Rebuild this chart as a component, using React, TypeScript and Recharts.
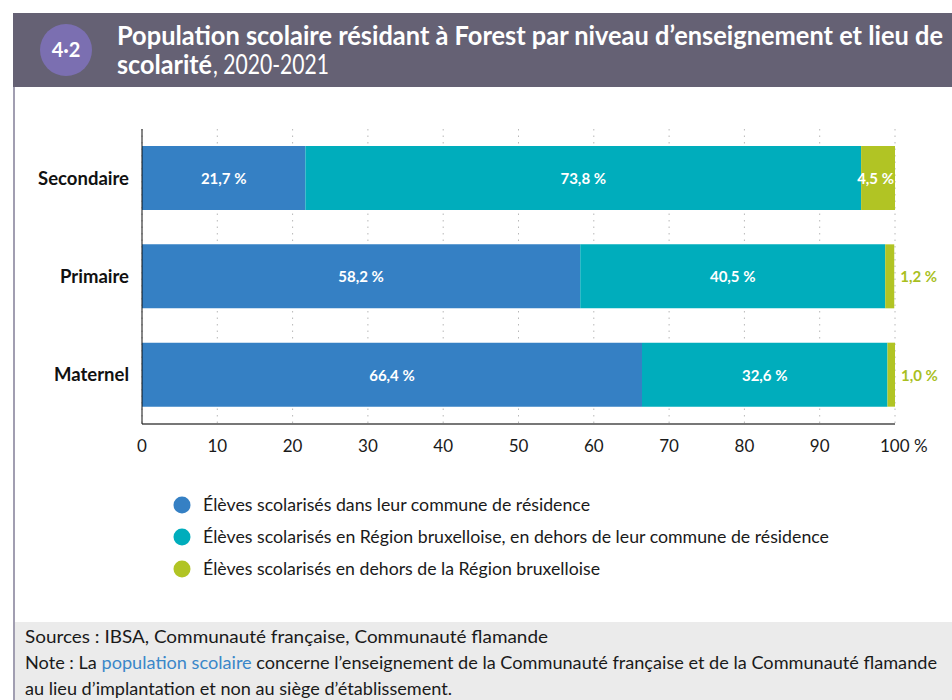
import { BarChart, Bar, XAxis, YAxis, CartesianGrid, LabelList } from 'recharts';

const categories = ['Secondaire', 'Primaire', 'Maternel'];
const dansCommune = [21.7, 58.2, 66.4];
const regionBxl = [73.8, 40.5, 32.6];
const horsRegion = [4.5, 1.2, 1.0];
const xTicks = [0, 10, 20, 30, 40, 50, 60, 70, 80, 90, 100];

const seriesNames = [
    'Élèves scolarisés dans leur commune de résidence',
    'Élèves scolarisés en Région bruxelloise, en dehors de leur commune de résidence',
    'Élèves scolarisés en dehors de la Région bruxelloise',
];

const BLUE = '#3580c4';
const TEAL = '#00adbc';
const GREEN = '#b1c424';
const FONT = 'Lato, "Open Sans", sans-serif';

const data = categories.map((name, i) => ({
    name,
    commune: dansCommune[i],
    region: regionBxl[i],
    hors: horsRegion[i],
}));

const fmt = (v: number) => v.toFixed(1).replace('.', ',') + ' %';

const InsideLabel = (props: any) => {
    const { x, y, width, height, value } = props;
    return (
        <text
            x={Number(x) + Number(width) / 2}
            y={Number(y) + Number(height) / 2}
            fill="#fff"
            fontSize={15}
            fontWeight={700}
            fontFamily={FONT}
            textAnchor="middle"
            dominantBaseline="central"
        >
            {fmt(value)}
        </text>
    );
};

const EndLabel = (props: any) => {
    const { x, y, width, height, value } = props;
    const inside = value >= 3;
    return (
        <text
            x={inside ? Number(x) + Number(width) - 1 : Number(x) + Number(width) + 6}
            y={Number(y) + Number(height) / 2}
            fill={inside ? '#fff' : '#a9bf1f'}
            fontSize={15}
            fontWeight={700}
            fontFamily={FONT}
            textAnchor={inside ? 'end' : 'start'}
            dominantBaseline="central"
        >
            {fmt(value)}
        </text>
    );
};

const XTick = (props: any) => {
    const { x, y, payload } = props;
    const last = payload.value === 100;
    return (
        <text
            x={last ? x - 15 : x}
            y={y + 26}
            fill="#1a1a1a"
            fontSize={17}
            fontFamily={FONT}
            textAnchor={last ? 'start' : 'middle'}
        >
            {last ? '100 %' : payload.value}
        </text>
    );
};

const legendColors = [BLUE, TEAL, GREEN];
const legendWidths = [387, 626, 397];

export default function App() {
    return (
        <div style={{ position: 'absolute', left: 0, top: 0, width: 952, height: 700, background: '#fff' }}>
            <svg width={952} height={700} style={{ position: 'absolute', left: 0, top: 0 }}>
                {/* cadre */}
                <rect x={13} y={13} width={939} height={74} fill="#656174" />
                <rect x={13} y={87} width={2} height={613} fill="#a19eb1" />
                <rect x={15} y={622} width={937} height={78} fill="#ebebeb" />
                <circle cx={66} cy={50} r={26} fill="#7b6fb1" />
                <text x={66} y={57} fill="#fff" fontSize={20} fontWeight={700} fontFamily={FONT} textAnchor="middle">
                    4·2
                </text>
                <text x={117} y={45} fill="#fff" fontSize={26} fontWeight={700} fontFamily={FONT} textLength={826} lengthAdjust="spacingAndGlyphs">
                    Population scolaire résidant à Forest par niveau d’enseignement et lieu de
                </text>
                <text x={117} y={74} fill="#fff" fontSize={26} fontWeight={700} fontFamily={FONT} textLength={95} lengthAdjust="spacingAndGlyphs">
                    scolarité
                </text>
                <text x={213} y={74} fill="#fff" fontSize={26} fontFamily={FONT} textLength={116} lengthAdjust="spacingAndGlyphs">
                    , 2020-2021
                </text>

                {/* légende */}
                {seriesNames.map((s, i) => (
                    <g key={s}>
                        <circle cx={182} cy={505 + i * 32} r={8.5} fill={legendColors[i]} />
                        <text x={203} y={511 + i * 32} fill="#1a1a1a" fontSize={17} fontFamily={FONT} textLength={legendWidths[i]} lengthAdjust="spacingAndGlyphs">
                            {s}
                        </text>
                    </g>
                ))}

                {/* sources */}
                <text x={25} y={643} fill="#1a1a1a" fontSize={17} fontFamily={FONT} textLength={523} lengthAdjust="spacingAndGlyphs">
                    Sources : IBSA, Communauté française, Communauté flamande
                </text>
                <text x={25} y={669} fill="#1a1a1a" fontSize={17} fontFamily={FONT} textLength={912} lengthAdjust="spacingAndGlyphs">
                    Note : La <tspan fill="#3a87c9">population scolaire</tspan> concerne l’enseignement de la Communauté française et de la Communauté flamande
                </text>
                <text x={25} y={695} fill="#1a1a1a" fontSize={17} fontFamily={FONT} textLength={427} lengthAdjust="spacingAndGlyphs">
                    au lieu d’implantation et non au siège d’établissement.
                </text>
            </svg>

            <div style={{ position: 'absolute', left: 0, top: 0 }}>
                <BarChart
                    width={952}
                    height={460}
                    data={data}
                    layout="vertical"
                    margin={{ top: 129, right: 57, left: 0, bottom: 6 }}
                >
                    <CartesianGrid horizontal={false} stroke="#b8b8b8" strokeDasharray="1.5 5" />
                    <XAxis
                        type="number"
                        domain={[0, 100]}
                        ticks={xTicks}
                        height={30}
                        axisLine={{ stroke: '#777', strokeWidth: 2 }}
                        tickLine={false}
                        tickSize={0}
                        tick={<XTick />}
                    />
                    <YAxis
                        type="category"
                        dataKey="name"
                        width={142}
                        axisLine={{ stroke: '#111' }}
                        tickLine={false}
                        tickSize={0}
                        tickMargin={13}
                        tick={{ fill: '#111', fontSize: 18.5, fontWeight: 700, fontFamily: FONT }}
                    />
                    <Bar dataKey="commune" stackId="a" fill={BLUE} barSize={64} isAnimationActive={false}>
                        <LabelList dataKey="commune" content={<InsideLabel />} />
                    </Bar>
                    <Bar dataKey="region" stackId="a" fill={TEAL} barSize={64} isAnimationActive={false}>
                        <LabelList dataKey="region" content={<InsideLabel />} />
                    </Bar>
                    <Bar dataKey="hors" stackId="a" fill={GREEN} barSize={64} isAnimationActive={false}>
                        <LabelList dataKey="hors" content={<EndLabel />} />
                    </Bar>
                </BarChart>
            </div>
        </div>
    );
}
